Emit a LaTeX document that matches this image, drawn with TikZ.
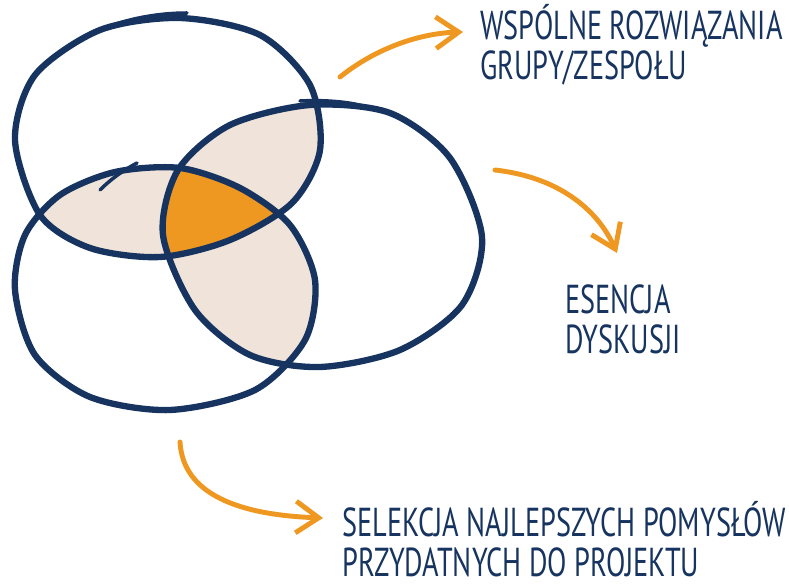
\documentclass[tikz,border=0pt]{standalone}
\usepackage{fontspec}
\setmainfont{PT Sans}
\newfontfamily\handfont[FakeStretch=0.70]{PT Sans}
\usetikzlibrary{arrows.meta,calc,positioning}
\definecolor{granat}{HTML}{16345F}
\definecolor{pomarancz}{HTML}{EF9821}
\definecolor{bez}{HTML}{F0E3D9}
\tikzset{
    %Define style for the rings
    ring/.style={
           draw=granat,
           line width=3.6pt,
           line join=round},
    rys/.style={
           draw=granat,
           line width=2pt,
           line cap=round},
    %Define style for the overlaps
    overlap/.style={fill=bez},
    core/.style={fill=pomarancz},
    %Define style for the texts
    tekst/.style={
           text=granat,
           inner sep=0pt,
           align=left,
           font=\handfont\fontsize{23}{23}\selectfont},
    % Define arrow style
    pil/.style={
           draw=pomarancz,
           line width=2.8pt,
           line cap=round,
           line join=round,
           -{Straight Barb[length=13pt,width=18pt,line width=2.8pt]}}
}
\def\ringA{plot[smooth cycle] coordinates {(15,140) (35,75) (100,30) (180,18) (260,35) (310,85) (320,150) (292,203) (230,240) (160,257) (90,248) (40,215)}}
\def\ringB{plot[smooth cycle] coordinates {(15,290) (25,235) (60,195) (115,172) (180,168) (240,188) (290,225) (315,280) (305,340) (255,390) (170,410) (90,397) (35,355)}}
\def\ringC{plot[smooth cycle] coordinates {(163,235) (178,170) (230,125) (310,105) (390,113) (450,158) (482,237) (462,305) (400,350) (320,367) (250,355) (195,310)}}
\begin{document}
\begin{tikzpicture}[x=0.02cm,y=-0.02cm]
\useasboundingbox (0,0) rectangle (789,587);

 %overlaps
\begin{scope}
  \clip \ringA;
  \fill[overlap] \ringB;
  \fill[overlap] \ringC;
\end{scope}
\begin{scope}
  \clip \ringB;
  \fill[overlap] \ringC;
\end{scope}
\begin{scope}
  \clip \ringA;
  \clip \ringB;
  \fill[core] \ringC;
\end{scope}

 %rings
\draw[ring] \ringA;
\draw[ring] \ringB;
\draw[ring] \ringC;
\draw[rys] (105,28) .. controls (130,18) and (160,13) .. (187,13);
\draw[rys] (100,190) .. controls (112,178) and (124,170) .. (137,163);
\draw[rys] (300,101) .. controls (320,100) and (345,101) .. (363,106);

 %labels
\node[tekst, anchor=base west] (wspolne) at (480,80) {WSPÓLNE ROZWIĄZANIA\\GRUPY/ZESPOŁU};
\node[tekst, anchor=base west] (esencja) at (565,354) {ESENCJA\\DYSKUSJI};
\node[tekst, anchor=base west] (selekcja) at (342,577) {SELEKCJA NAJLEPSZYCH POMYSŁÓW\\PRZYDATNYCH DO PROJEKTU};

 %arrows
\coordinate (s1) at (340,77);
\coordinate (s2) at (495,170);
\coordinate (s3) at (180,442);
\draw[pil] (s1) .. controls (380,45) and (425,33) .. ($(wspolne.base west)+(-17,-48)$);
\draw[pil] (s2) .. controls (565,178) and (600,215) .. ($(esencja.base west)+(52,-101)$);
\draw[pil] (s3) .. controls (183,495) and (240,515) .. ($(selekcja.base west)+(-19,-59)$);
\end{tikzpicture}
\end{document}
